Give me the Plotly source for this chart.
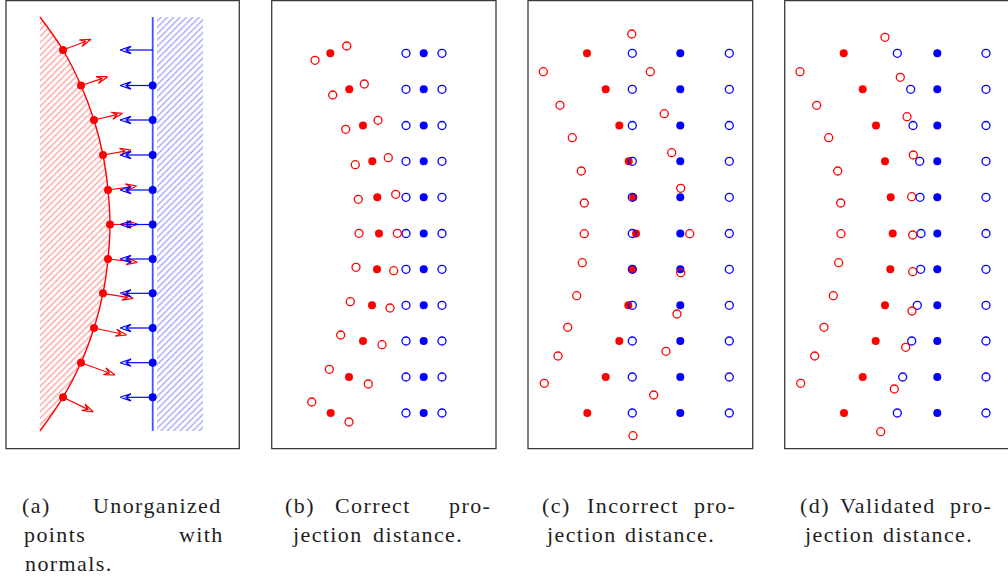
import math
import plotly.graph_objects as go

# ---------------- data (canvas-pixel coordinates of the schematic) ----------------
# Panel (a): unorganized points with normals
a_row_y = [50, 85.5, 120, 155, 190, 224.5, 259, 293.3, 328, 362.7, 397.3]
a_red_x = [63, 81, 94, 103, 108, 110, 108, 103, 94, 81, 63]
a_normal_tip_x = [91, 107.7, 122.7, 131, 136.7, 138, 137.3, 133.3, 126.7, 115, 93.3]
a_normal_tip_y = [39.3, 76.7, 113.3, 150, 186, 224.3, 262.3, 298.3, 335, 375, 412]
a_curve_end_x = 40
a_curve_top_y = 17
a_curve_bottom_y = 431
a_blue_line_x = 152.7
a_blue_dot_rows = [1, 2, 3, 4, 5, 6, 7, 8, 9, 10]
a_blue_tip_x = 120
a_blue_hatch_x = [157, 203]

# Panels (b)-(d): common rows
rows_y = [53.3, 89.3, 125.5, 161.3, 197.3, 233.5, 269.3, 305.3, 341, 377, 413]

# Panel (b): correct projection distance
b_red_filled_x = [330.3, 349.3, 363, 372.3, 377.3, 379, 377, 372, 363, 349, 330.7]
b_red_open_left_x = [315, 332.7, 345.7, 355.3, 358.3, 359, 356, 350.3, 340.7, 329.3, 311.7]
b_red_open_left_y = [60.3, 95, 129.3, 164.7, 199.3, 233.3, 267.3, 301.7, 335, 369.3, 402]
b_red_open_right_x = [346.7, 364.3, 378, 388.3, 395.7, 397.3, 393.7, 390, 382, 368.3, 349]
b_red_open_right_y = [46, 84, 120.3, 157.7, 194.3, 233.3, 270.7, 308, 344.7, 384, 422]
b_blue_open_x = [406, 442]
b_blue_filled_x = 423.7

# Panel (c): incorrect projection distance
c_red_filled_x = [587, 605.7, 619.3, 628.7, 633.3, 636, 632.7, 628.3, 619.3, 605.7, 587.3]
c_red_open_x = [631.7, 543.3, 650.3, 560, 664.3, 572.3, 671.7, 581.3, 680.7, 584.3, 584.3,
                689.7, 582.3, 680.7, 576.7, 677, 567.7, 666, 558, 653.7, 544.3, 633]
c_red_open_y = [34, 71.7, 71.7, 105.3, 113.7, 137.7, 152.7, 171, 188.3, 203, 233.7,
                233.7, 262.7, 272.7, 295.7, 314, 327.3, 351.3, 356, 395, 383.3, 435.7]
c_blue_open_x = [632.3, 729.3]
c_blue_filled_x = 680.3

# Panel (d): validated projection distance
d_red_filled_x = [843.7, 862.7, 876, 885, 890.7, 892.7, 890.3, 885, 875.7, 862.7, 844]
d_blue_open_left_x = [897.3, 910.7, 913, 919.7, 920, 921, 920.7, 917.3, 911.7, 902.7, 897.3]
d_blue_filled_x = 937.3
d_blue_open_right_x = 986
d_red_open_x = [885, 800, 900.3, 816.7, 907, 828.7, 913.3, 837.7, 911.7, 840.7, 841,
                912.7, 838.7, 912.7, 833.3, 912, 824, 905.7, 814.7, 894.3, 800.7, 880.7]
d_red_open_y = [37.3, 71.7, 77.3, 105.3, 116.7, 137.7, 155, 171, 196.7, 203, 233.7,
                235, 262.7, 271.7, 295.7, 311, 327.3, 347.3, 356, 389, 383.3, 431.7]

# Caption words: (text, left, right, line)
caption_words = [
    ("(a)", 22.7, 50.7, 0), ("Unorganized", 92.7, 222.7, 0),
    ("points", 22.7, 87.3, 1), ("with", 180, 222.7, 1),
    ("normals.", 22.7, 115, 2),
    ("(b)", 285, 315, 0), ("Correct", 328, 417, 0), ("pro-", 447, 493.3, 0),
    ("jection", 285, 370, 1), ("distance.", 380, 456.7, 1),
    ("(c)", 543.3, 570, 0), ("Incorrect", 586, 680, 0), ("pro-", 695, 735, 0),
    ("jection", 543.3, 620, 1), ("distance.", 625, 715, 1),
    ("(d)", 801.7, 828.3, 0), ("Validated", 833.3, 941.7, 0), ("pro-", 948.3, 992.7, 0),
    ("jection", 801.7, 876.7, 1), ("distance.", 881.7, 973.3, 1),
]
caption_line_y = [505, 534.5, 563]

# ---------------- styles ----------------
RED = "#ff0000"
BLUE = "#0000ff"
MS = 8

fig = go.Figure()


def markers(x, y, color, filled):
    fig.add_trace(go.Scatter(
        x=x, y=y, mode="markers", hoverinfo="skip", showlegend=False,
        marker=dict(symbol="circle" if filled else "circle-open", size=MS,
                    color=color, line=dict(width=0 if filled else 1.3, color=color))))


def arrows(starts, tips, color, width=1.2, L=11, w=3.6):
    xs, ys = [], []
    for (x0, y0), (x1, y1) in zip(starts, tips):
        dx, dy = x1 - x0, y1 - y0
        n = math.hypot(dx, dy)
        ux, uy = dx / n, dy / n
        nx, ny = -uy, ux
        bx, by = x1 - L * ux, y1 - L * uy
        mx, my = x1 - 0.55 * L * ux, y1 - 0.55 * L * uy
        xs += [x0, mx, None, x1, bx + w * nx, mx, bx - w * nx, x1, None]
        ys += [y0, my, None, y1, by + w * ny, my, by - w * ny, y1, None]
    fig.add_trace(go.Scatter(x=xs, y=ys, mode="lines", hoverinfo="skip", showlegend=False,
                             line=dict(color=color, width=width)))


# ---- panel (a) ----
curve_x = [a_curve_end_x] + a_red_x + [a_curve_end_x]
curve_y = [a_curve_top_y] + a_row_y + [a_curve_bottom_y]
fig.add_trace(go.Scatter(x=curve_x, y=curve_y, mode="lines", fill="toself",
                         line=dict(width=0, shape="spline", color="rgba(0,0,0,0)"),
                         fillcolor="rgba(0,0,0,0)",
                         fillpattern=dict(shape="/", fgcolor="#ff4040", bgcolor="rgba(0,0,0,0)",
                                          size=4.5, solidity=0.3),
                         hoverinfo="skip", showlegend=False))
hx0, hx1 = a_blue_hatch_x
fig.add_trace(go.Scatter(x=[hx0, hx1, hx1, hx0], y=[a_curve_top_y, a_curve_top_y, a_curve_bottom_y, a_curve_bottom_y],
                         mode="lines", fill="toself",
                         line=dict(width=0, color="rgba(0,0,0,0)"), fillcolor="rgba(0,0,0,0)",
                         fillpattern=dict(shape="/", fgcolor="#4848ff", bgcolor="rgba(0,0,0,0)",
                                          size=4.5, solidity=0.3),
                         hoverinfo="skip", showlegend=False))
fig.add_trace(go.Scatter(x=curve_x, y=curve_y, mode="lines", hoverinfo="skip", showlegend=False,
                         line=dict(color=RED, width=1.4, shape="spline")))
fig.add_trace(go.Scatter(x=[a_blue_line_x, a_blue_line_x], y=[a_curve_top_y, a_curve_bottom_y],
                         mode="lines", hoverinfo="skip", showlegend=False,
                         line=dict(color="#3c50ff", width=1.8)))
arrows(list(zip(a_red_x, a_row_y)), list(zip(a_normal_tip_x, a_normal_tip_y)), RED)
arrows([(a_blue_line_x, y) for y in a_row_y], [(a_blue_tip_x, y) for y in a_row_y], BLUE)
markers(a_red_x, a_row_y, RED, True)
markers([a_blue_line_x] * len(a_blue_dot_rows), [a_row_y[i] for i in a_blue_dot_rows], BLUE, True)

# ---- panel (b) ----
markers(b_red_filled_x, rows_y, RED, True)
markers([b_blue_filled_x] * len(rows_y), rows_y, BLUE, True)
for bx in b_blue_open_x:
    markers([bx] * len(rows_y), rows_y, BLUE, False)
markers(b_red_open_left_x + b_red_open_right_x, b_red_open_left_y + b_red_open_right_y, RED, False)

# ---- panel (c) ----
markers(c_red_filled_x, rows_y, RED, True)
markers([c_blue_filled_x] * len(rows_y), rows_y, BLUE, True)
for cx in c_blue_open_x:
    markers([cx] * len(rows_y), rows_y, BLUE, False)
markers(c_red_open_x, c_red_open_y, RED, False)

# ---- panel (d) ----
markers(d_red_filled_x, rows_y, RED, True)
markers([d_blue_filled_x] * len(rows_y), rows_y, BLUE, True)
markers(d_blue_open_left_x, rows_y, BLUE, False)
markers([d_blue_open_right_x] * len(rows_y), rows_y, BLUE, False)
markers(d_red_open_x, d_red_open_y, RED, False)

# ---- panel frames ----
frames = [(6, 239.3), (271.7, 496), (528, 752.7), (784.7, 1015)]
for fx0, fx1 in frames:
    fig.add_shape(type="rect", xref="x", yref="y", x0=fx0, x1=fx1, y0=0.7, y1=448.7,
                  line=dict(color="#3a3a3a", width=1.3), fillcolor="rgba(0,0,0,0)", layer="below")

# ---- captions ----
for text, left, right, line in caption_words:
    fig.add_annotation(x=(left + right) / 2, y=caption_line_y[line], xref="x", yref="y",
                       text='<span style="letter-spacing:1.4px">' + text + '</span>',
                       showarrow=False, xanchor="center", yanchor="middle",
                       font=dict(family="Liberation Serif, DejaVu Serif, serif", size=22,
                                 color="#1e1e1e"))

fig.update_layout(
    width=1008, height=579, margin=dict(l=0, r=0, t=0, b=0),
    paper_bgcolor="white", plot_bgcolor="white",
    xaxis=dict(range=[0, 1008], visible=False, domain=[0, 1], fixedrange=True),
    yaxis=dict(range=[579, 0], visible=False, domain=[0, 1], fixedrange=True),
)

fig.write_html("out.html")
